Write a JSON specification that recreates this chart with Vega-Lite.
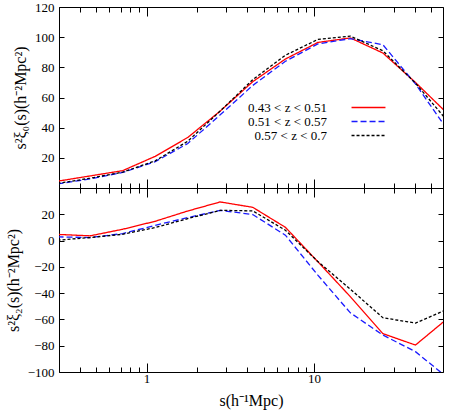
{
  "$schema": "https://vega.github.io/schema/vega-lite/v6.json",
  "padding": {"left": 4, "top": 0, "right": 14, "bottom": 2},
  "background": "white",
  "spacing": 0,
  "bounds": "flush",
  "config": {
    "view": {"stroke": "black", "strokeWidth": 1},
    "font": "Liberation Serif",
    "axis": {
      "grid": false,
      "domainColor": "black",
      "tickColor": "black",
      "labelColor": "black",
      "titleColor": "black",
      "labelFont": "Liberation Serif",
      "titleFont": "Liberation Serif",
      "labelFontSize": 13,
      "titleFontSize": 16,
      "titleFontWeight": "normal"
    },
    "legend": {"labelFont": "Liberation Serif", "labelFontSize": 13, "labelColor": "black"}
  },
  "data": {
    "values": [
      {"s": 0.294, "series": "0.43 < z < 0.51", "xi0": 4.5, "xi2": 4.7},
      {"s": 0.46, "series": "0.43 < z < 0.51", "xi0": 8, "xi2": 3.6},
      {"s": 0.72, "series": "0.43 < z < 0.51", "xi0": 11.5, "xi2": 8.6},
      {"s": 1.127, "series": "0.43 < z < 0.51", "xi0": 21, "xi2": 14.7},
      {"s": 1.763, "series": "0.43 < z < 0.51", "xi0": 33.5, "xi2": 22.5},
      {"s": 2.754, "series": "0.43 < z < 0.51", "xi0": 51, "xi2": 29.4},
      {"s": 4.31, "series": "0.43 < z < 0.51", "xi0": 70.5, "xi2": 25.3},
      {"s": 6.75, "series": "0.43 < z < 0.51", "xi0": 85.5, "xi2": 10.1},
      {"s": 10.55, "series": "0.43 < z < 0.51", "xi0": 96.5, "xi2": -16.1},
      {"s": 16.5, "series": "0.43 < z < 0.51", "xi0": 99.5, "xi2": -42.7},
      {"s": 25.8, "series": "0.43 < z < 0.51", "xi0": 89.5, "xi2": -70.8},
      {"s": 40.4, "series": "0.43 < z < 0.51", "xi0": 70, "xi2": -79.5},
      {"s": 63.2, "series": "0.43 < z < 0.51", "xi0": 49, "xi2": -59},
      {"s": 0.294, "series": "0.51 < z < 0.57", "xi0": 2.7, "xi2": 2.8},
      {"s": 0.46, "series": "0.51 < z < 0.57", "xi0": 6, "xi2": 2.3},
      {"s": 0.72, "series": "0.51 < z < 0.57", "xi0": 10.3, "xi2": 5.3},
      {"s": 1.127, "series": "0.51 < z < 0.57", "xi0": 17.5, "xi2": 11.6},
      {"s": 1.763, "series": "0.51 < z < 0.57", "xi0": 29.5, "xi2": 17.5},
      {"s": 2.754, "series": "0.51 < z < 0.57", "xi0": 48.5, "xi2": 23},
      {"s": 4.31, "series": "0.51 < z < 0.57", "xi0": 68, "xi2": 19.8},
      {"s": 6.75, "series": "0.51 < z < 0.57", "xi0": 84, "xi2": 4.1},
      {"s": 10.55, "series": "0.51 < z < 0.57", "xi0": 95.5, "xi2": -26.3},
      {"s": 16.5, "series": "0.51 < z < 0.57", "xi0": 99, "xi2": -55},
      {"s": 25.8, "series": "0.51 < z < 0.57", "xi0": 95, "xi2": -71.9},
      {"s": 40.4, "series": "0.51 < z < 0.57", "xi0": 69, "xi2": -84.5},
      {"s": 63.2, "series": "0.51 < z < 0.57", "xi0": 38, "xi2": -104.7},
      {"s": 0.294, "series": "0.57 < z < 0.7", "xi0": 3, "xi2": 0.3},
      {"s": 0.46, "series": "0.57 < z < 0.7", "xi0": 6.5, "xi2": 2.3},
      {"s": 0.72, "series": "0.57 < z < 0.7", "xi0": 10.5, "xi2": 4.8},
      {"s": 1.127, "series": "0.57 < z < 0.7", "xi0": 18, "xi2": 9.9},
      {"s": 1.763, "series": "0.57 < z < 0.7", "xi0": 31, "xi2": 16.7},
      {"s": 2.754, "series": "0.57 < z < 0.7", "xi0": 51, "xi2": 23},
      {"s": 4.31, "series": "0.57 < z < 0.7", "xi0": 71.8, "xi2": 22.6},
      {"s": 6.75, "series": "0.57 < z < 0.7", "xi0": 88, "xi2": 7.9},
      {"s": 10.55, "series": "0.57 < z < 0.7", "xi0": 98.5, "xi2": -16},
      {"s": 16.5, "series": "0.57 < z < 0.7", "xi0": 100.7, "xi2": -37},
      {"s": 25.8, "series": "0.57 < z < 0.7", "xi0": 91, "xi2": -58.7},
      {"s": 40.4, "series": "0.57 < z < 0.7", "xi0": 69.5, "xi2": -62.8},
      {"s": 63.2, "series": "0.57 < z < 0.7", "xi0": 44, "xi2": -52}
    ]
  },
  "vconcat": [
    {
      "width": 384,
      "height": 181,
      "layer": [
        {
          "mark": {"type": "line", "clip": true, "strokeWidth": 1.3},
          "encoding": {
            "x": {
              "field": "s", "type": "quantitative",
              "scale": {"type": "log", "domain": [0.3, 59], "nice": false},
              "axis": {
                "orient": "bottom", "title": null, "labels": false, "domain": false,
                "values": [0.3, 0.4, 0.5, 0.6, 0.7, 0.8, 0.9, 1, 2, 3, 4, 5, 6, 7, 8, 9, 10, 20, 30, 40, 50],
                "tickSize": {"condition": {"test": "datum.value == 1 || datum.value == 10", "value": -9}, "value": -5}
              }
            },
            "y": {
              "field": "xi0", "type": "quantitative",
              "scale": {"domain": [0, 120], "nice": false},
              "axis": {
                "orient": "left", "domain": false,
                "values": [0, 20, 40, 60, 80, 100, 120],
                "labelExpr": "datum.value == 0 ? '' : datum.label",
                "tickSize": -5, "labelPadding": 10,
                "title": "s²ξ₀(s)(h⁻²Mpc²)", "titlePadding": 6
              }
            },
            "color": {
              "field": "series", "type": "nominal",
              "scale": {"domain": ["0.43 < z < 0.51", "0.51 < z < 0.57", "0.57 < z < 0.7"], "range": ["#ff0000", "#1a1aff", "#000000"]},
              "legend": {
                "title": null, "orient": "none", "legendX": 303, "legendY": 94,
                "symbolType": "M-3,0H3", "symbolSize": 128, "symbolStrokeWidth": 1.5,
                "labelAlign": "right", "labelOffset": -48, "rowPadding": -6.5, "labelLimit": 300
              }
            },
            "strokeDash": {
              "field": "series", "type": "nominal",
              "scale": {"domain": ["0.43 < z < 0.51", "0.51 < z < 0.57", "0.57 < z < 0.7"], "range": [[1, 0], [6, 3], [3, 2]]},
              "legend": {
                "title": null, "orient": "none", "legendX": 303, "legendY": 94,
                "symbolType": "M-3,0H3", "symbolSize": 128, "symbolStrokeWidth": 1.5,
                "labelAlign": "right", "labelOffset": -48, "rowPadding": -6.5, "labelLimit": 300
              }
            }
          }
        },
        {
          "mark": {"type": "line", "opacity": 0},
          "encoding": {
            "x": {
              "field": "s", "type": "quantitative",
              "axis": {
                "orient": "top", "title": null, "labels": false, "domain": false,
                "values": [0.3, 0.4, 0.5, 0.6, 0.7, 0.8, 0.9, 1, 2, 3, 4, 5, 6, 7, 8, 9, 10, 20, 30, 40, 50],
                "tickSize": {"condition": {"test": "datum.value == 1 || datum.value == 10", "value": -9}, "value": -5}
              }
            },
            "y": {
              "field": "xi0", "type": "quantitative",
              "axis": {"orient": "right", "title": null, "labels": false, "domain": false, "values": [0, 20, 40, 60, 80, 100, 120], "tickSize": -5}
            }
          }
        }
      ]
    },
    {
      "width": 384,
      "height": 184,
      "layer": [
        {
          "mark": {"type": "line", "clip": true, "strokeWidth": 1.3},
          "encoding": {
            "x": {
              "field": "s", "type": "quantitative",
              "scale": {"type": "log", "domain": [0.3, 59], "nice": false},
              "axis": {
                "orient": "bottom", "domain": false,
                "values": [0.3, 0.4, 0.5, 0.6, 0.7, 0.8, 0.9, 1, 2, 3, 4, 5, 6, 7, 8, 9, 10, 20, 30, 40, 50],
                "labelExpr": "datum.value == 1 || datum.value == 10 ? datum.label : ''",
                "tickSize": {"condition": {"test": "datum.value == 1 || datum.value == 10", "value": -9}, "value": -5},
                "labelPadding": 9,
                "title": "s(h⁻¹Mpc)", "titlePadding": 7
              }
            },
            "y": {
              "field": "xi2", "type": "quantitative",
              "scale": {"domain": [-100, 40], "nice": false},
              "axis": {
                "orient": "left", "domain": false,
                "values": [-100, -80, -60, -40, -20, 0, 20, 40],
                "labelExpr": "datum.value == 40 ? '' : datum.label",
                "tickSize": -5, "labelPadding": 10,
                "title": "s²ξ₂(s)(h⁻²Mpc²)", "titlePadding": 6
              }
            },
            "color": {"field": "series", "type": "nominal", "legend": null},
            "strokeDash": {"field": "series", "type": "nominal", "legend": null}
          }
        },
        {
          "mark": {"type": "line", "opacity": 0},
          "encoding": {
            "x": {
              "field": "s", "type": "quantitative",
              "axis": {
                "orient": "top", "title": null, "labels": false, "domain": false,
                "values": [0.3, 0.4, 0.5, 0.6, 0.7, 0.8, 0.9, 1, 2, 3, 4, 5, 6, 7, 8, 9, 10, 20, 30, 40, 50],
                "tickSize": {"condition": {"test": "datum.value == 1 || datum.value == 10", "value": -9}, "value": -5}
              }
            },
            "y": {
              "field": "xi2", "type": "quantitative",
              "axis": {"orient": "right", "title": null, "labels": false, "domain": false, "values": [-100, -80, -60, -40, -20, 0, 20, 40], "tickSize": -5}
            }
          }
        }
      ]
    }
  ]
}
